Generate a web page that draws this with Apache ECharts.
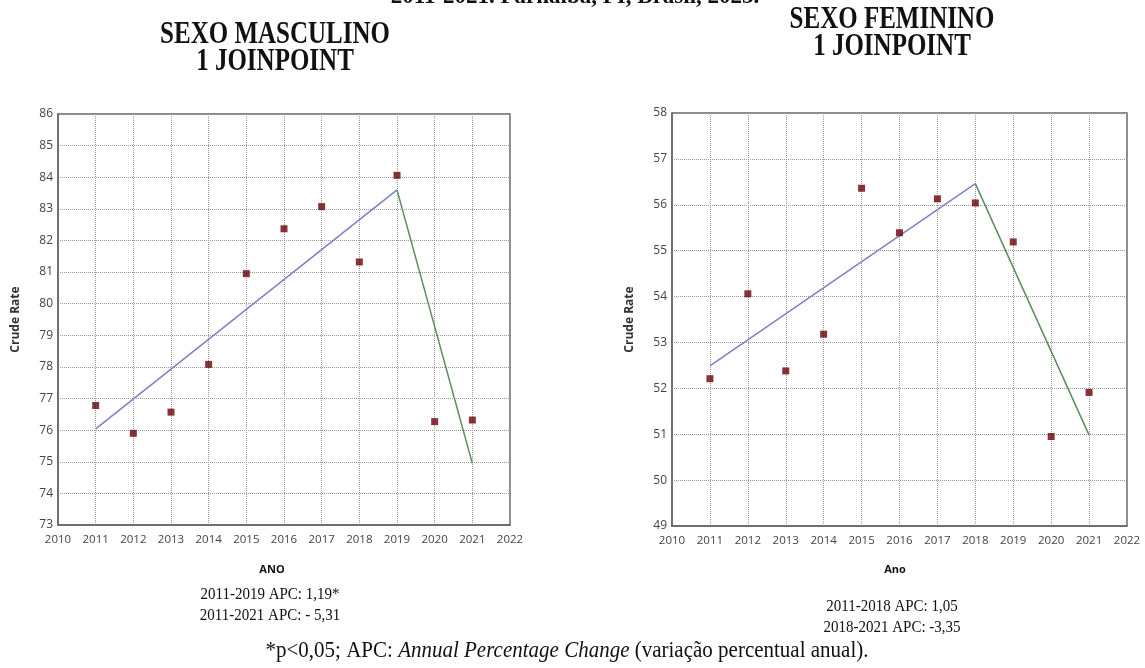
<!DOCTYPE html>
<html>
<head>
<meta charset="utf-8">
<script src="https://cdn.jsdelivr.net/npm/echarts@6/dist/echarts.min.js"></script>
<style>
html,body{margin:0;padding:0;background:#fff;}
#c{width:1145px;height:668px;}
</style>
</head>
<body>
<div id="c"></div>
<script>
// ---- data ----
var years = [2011, 2012, 2013, 2014, 2015, 2016, 2017, 2018, 2019, 2020, 2021];
var maleRate = [76.78, 75.90, 76.57, 78.08, 80.95, 82.37, 83.07, 81.32, 84.06, 76.27, 76.32];
var femaleRate = [52.21, 54.06, 52.38, 53.18, 56.36, 55.39, 56.13, 56.04, 55.19, 50.95, 51.91];
var maleSeg1Years = [2011, 2019];
var maleSeg1 = [76.04, 83.60];
var maleSeg2Years = [2019, 2021];
var maleSeg2 = [83.60, 74.95];
var femaleSeg1Years = [2011, 2018];
var femaleSeg1 = [52.49, 56.46];
var femaleSeg2Years = [2018, 2021];
var femaleSeg2 = [56.46, 50.98];
var xRange = [2010, 2022];
var maleYRange = [73, 86];
var femaleYRange = [49, 58];
var topText = "2011-2021. Parnaíba, PI, Brasil, 2023.";
var maleTitle = ["SEXO MASCULINO", "1 JOINPOINT"];
var femaleTitle = ["SEXO FEMININO", "1 JOINPOINT"];
var maleApc = ["2011-2019 APC: 1,19*", "2011-2021 APC: - 5,31"];
var femaleApc = ["2011-2018 APC: 1,05", "2018-2021 APC: -3,35"];
var yName = "Crude Rate";
var maleXName = "ANO";
var femaleXName = "Ano";

function pairs(xs, ys) { return xs.map(function (x, i) { return [x, ys[i]]; }); }

var chart = echarts.init(document.getElementById('c'));
var serif = '"Liberation Serif", "Times New Roman", serif';
var sans = '"Open Sans", "Noto Sans", sans-serif';

function xAxis(gi) {
  return {
    gridIndex: gi, type: 'value', min: xRange[0], max: xRange[1], interval: 1,
    axisLine: { show: true, lineStyle: { color: '#666', width: 1.5 } },
    axisTick: { show: false },
    axisLabel: { color: '#444', fontSize: 11.5, fontFamily: sans, margin: 9, formatter: function (v) { return String(v); } },
    splitLine: { show: true, lineStyle: { color: '#999', type: 'dotted', width: 1 } }
  };
}
function yAxis(gi, r) {
  return {
    gridIndex: gi, type: 'value', min: r[0], max: r[1], interval: 1,
    name: yName, nameLocation: 'middle', nameRotate: 90, nameGap: 36,
    nameTextStyle: { color: '#333', fontSize: 12, fontWeight: 'bold', fontFamily: sans },
    axisLine: { show: true, lineStyle: { color: '#666', width: 1.5 } },
    axisTick: { show: false },
    axisLabel: { color: '#444', fontSize: 12, fontFamily: sans, margin: 5 },
    splitLine: { show: true, lineStyle: { color: '#999', type: 'dotted', width: 1 } }
  };
}
function scatter(xi, data) {
  return {
    type: 'scatter', xAxisIndex: xi, yAxisIndex: xi, data: pairs(years, data),
    symbol: 'rect', symbolSize: 7, itemStyle: { color: '#680008' }, z: 5
  };
}
function seg(xi, xs, ys, color) {
  return {
    type: 'line', xAxisIndex: xi, yAxisIndex: xi, data: pairs(xs, ys),
    showSymbol: false, symbol: 'none', lineStyle: { color: color, width: 1.5 }, z: 4
  };
}
function txt(x, y, s, font, sy) {
  return { type: 'text', x: x, y: y, scaleY: sy || 1,
    style: { text: s, font: font, fill: '#111', textAlign: 'center', textVerticalAlign: 'middle' } };
}

var option = {
  animation: false,
  backgroundColor: '#fff',
  grid: [
    { left: 58, top: 114, width: 452, height: 411, show: true, borderColor: '#666', borderWidth: 1.5, backgroundColor: '#fff' },
    { left: 672, top: 113, width: 455, height: 413, show: true, borderColor: '#666', borderWidth: 1.5, backgroundColor: '#fff' }
  ],
  xAxis: [xAxis(0), xAxis(1)],
  yAxis: [yAxis(0, maleYRange), yAxis(1, femaleYRange)],
  series: [
    seg(0, maleSeg1Years, maleSeg1, '#7f7fc6'),
    seg(0, maleSeg2Years, maleSeg2, '#5c8c5c'),
    scatter(0, maleRate),
    seg(1, femaleSeg1Years, femaleSeg1, '#7f7fc6'),
    seg(1, femaleSeg2Years, femaleSeg2, '#5c8c5c'),
    scatter(1, femaleRate)
  ],
  graphic: [
    { type: 'text', x: 575, y: 9, style: { text: topText, font: 'bold 23px ' + serif, fill: '#111', textAlign: 'center', textVerticalAlign: 'bottom' } },
    txt(275, 35, maleTitle[0], 'bold 25px ' + serif, 1.25),
    txt(275, 62, maleTitle[1], 'bold 25px ' + serif, 1.25),
    txt(892, 20, femaleTitle[0], 'bold 25px ' + serif, 1.25),
    txt(892, 47, femaleTitle[1], 'bold 25px ' + serif, 1.25),
    txt(272, 570, maleXName, 'bold 11px ' + sans),
    txt(895, 570, femaleXName, 'bold 11px ' + sans),
    txt(270, 594, maleApc[0], '15px ' + serif, 1.15),
    txt(270, 615, maleApc[1], '15px ' + serif, 1.15),
    txt(892, 606, femaleApc[0], '15px ' + serif, 1.15),
    txt(892, 627, femaleApc[1], '15px ' + serif, 1.15),
    { type: 'text', x: 567, y: 651, scaleY: 1.1, style: { rich: {
        n: { font: '21px ' + serif, fill: '#111' },
        i: { font: 'italic 21px ' + serif, fill: '#111' }
      }, text: '{n|*p<0,05; APC: }{i|Annual Percentage Change}{n| (variação percentual anual).}', textAlign: 'center', textVerticalAlign: 'middle' } }
  ]
};
chart.setOption(option);
</script>
</body>
</html>
